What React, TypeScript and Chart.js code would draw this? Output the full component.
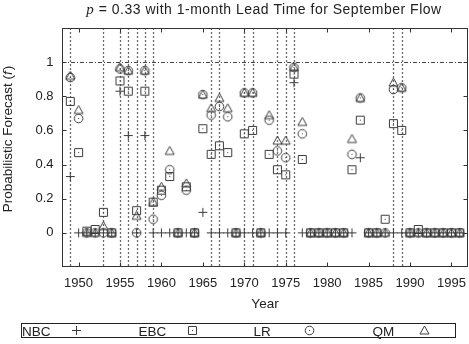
import { useEffect, useRef } from 'react';
import { Chart, registerables } from 'chart.js';

Chart.register(...registerables);

// Forecast years
const years = [
  1949, 1950, 1951, 1952, 1953, 1954, 1955, 1956, 1957, 1958, 1959, 1960,
  1961, 1962, 1963, 1964, 1965, 1966, 1967, 1968, 1969, 1970, 1971, 1972,
  1973, 1974, 1975, 1976, 1977, 1978, 1979, 1980, 1981, 1982, 1983, 1984,
  1985, 1986, 1987, 1988, 1989, 1990, 1991, 1992, 1993, 1994, 1995, 1996,
];

// Probabilistic forecasts (f) by method
const nbc = [
  0.33, 0, 0, 0, 0, 0, 0.83, 0.57, 0, 0.57, 0, 0,
  0, 0, 0, 0, 0.12, 0, 0, 0, 0, 0, 0, 0,
  0, 0, 0, 0.88, 0, 0, 0, 0, 0, 0, 0, 0.44,
  0, 0, 0, 0, 0, 0, 0, 0, 0, 0, 0, 0,
];
const ebc = [
  0.77, 0.47, 0.01, 0.02, 0.12, 0, 0.89, 0.83, 0.13, 0.83, 0.18, 0.25,
  0.33, 0, 0.27, 0, 0.61, 0.46, 0.51, 0.47, 0, 0.58, 0.6, 0,
  0.46, 0.37, 0.34, 0.93, 0.43, 0, 0, 0, 0, 0, 0.37, 0.66,
  0, 0, 0.08, 0.64, 0.6, 0, 0.02, 0, 0, 0, 0, 0,
];
const lr = [
  0.91, 0.67, 0, 0, 0, 0, 0.96, 0.95, 0, 0.95, 0.08, 0.22,
  0.37, 0, 0.25, 0, 0.81, 0.69, 0.74, 0.68, 0, 0.82, 0.82, 0,
  0.66, 0.48, 0.44, 0.97, 0.58, 0, 0, 0, 0, 0, 0.46, 0.79,
  0, 0, 0, 0.84, 0.85, 0, 0, 0, 0, 0, 0, 0,
];
const qm = [
  0.92, 0.72, 0, 0, 0.04, 0, 0.97, 0.95, 0.1, 0.95, 0.18, 0.27,
  0.48, 0, 0.29, 0, 0.81, 0.73, 0.79, 0.73, 0, 0.82, 0.82, 0,
  0.69, 0.54, 0.54, 0.97, 0.65, 0, 0, 0, 0, 0, 0.55, 0.79,
  0, 0, 0, 0.88, 0.85, 0, 0, 0, 0, 0, 0, 0,
];

// Years in which the observed September flow fell in the event category
const eventYears = [
  1949, 1953, 1955, 1956, 1957, 1958, 1959, 1966, 1967, 1970, 1971, 1974,
  1975, 1976, 1988, 1989,
];

const xTicks = [1950, 1955, 1960, 1965, 1970, 1975, 1980, 1985, 1990, 1995];
const yTicks = [0, 0.2, 0.4, 0.6, 0.8, 1];
const certainty = 1;

const legendLabels = ['NBC', 'EBC', 'LR', 'QM'];

const SANS = '"Liberation Sans", Arial, sans-serif';
const SERIF = '"Liberation Serif", "Times New Roman", serif';
const MARK = '#3c3c3c';

type Kind = 'plus' | 'square' | 'circle' | 'triangle';

function makeMarker(kind: Kind): HTMLCanvasElement {
  const c = document.createElement('canvas');
  c.width = 13;
  c.height = 13;
  const g = c.getContext('2d')!;
  g.translate(6.5, 6.5);
  g.strokeStyle = MARK;
  g.fillStyle = MARK;
  g.lineWidth = 1;
  g.beginPath();
  if (kind === 'plus') {
    g.moveTo(-4.5, 0);
    g.lineTo(4.5, 0);
    g.moveTo(0, -4.5);
    g.lineTo(0, 4.5);
    g.stroke();
  } else if (kind === 'square') {
    g.rect(-4, -4, 8, 8);
    g.stroke();
    g.fillRect(-0.5, -0.5, 1, 1);
  } else if (kind === 'circle') {
    g.arc(0, 0, 4.3, 0, Math.PI * 2);
    g.stroke();
    g.fillRect(-0.5, -0.5, 1, 1);
  } else {
    g.moveTo(0, -4.5);
    g.lineTo(4.5, 3.5);
    g.lineTo(-4.5, 3.5);
    g.closePath();
    g.stroke();
  }
  return c;
}

export default function App() {
  const ref = useRef<HTMLCanvasElement | null>(null);

  useEffect(() => {
    document.body.style.margin = '0';
    const canvas = ref.current;
    if (!canvas) return;

    const markers: Record<Kind, HTMLCanvasElement> = {
      plus: makeMarker('plus'),
      square: makeMarker('square'),
      circle: makeMarker('circle'),
      triangle: makeMarker('triangle'),
    };
    const legendKinds: Kind[] = ['plus', 'square', 'circle', 'triangle'];

    const series = (label: string, values: number[], kind: Kind) => ({
      label,
      data: years.map((yr, i) => ({ x: yr, y: values[i] })),
      pointStyle: markers[kind],
      pointRadius: 5,
      pointHoverRadius: 5,
      showLine: false,
      borderColor: MARK,
      backgroundColor: MARK,
    });

    const decor = {
      id: 'decor',
      beforeDatasetsDraw(chart: any) {
        const { ctx, chartArea: a } = chart;
        const x = chart.scales.x;
        const y = chart.scales.y;
        ctx.save();
        ctx.beginPath();
        ctx.rect(a.left, a.top, a.right - a.left, a.bottom - a.top);
        ctx.clip();
        ctx.lineWidth = 1.3;
        ctx.strokeStyle = '#6a6a6a';
        ctx.setLineDash([2, 2]);
        for (const yr of eventYears) {
          const px = Math.round(x.getPixelForValue(yr)) + 0.5;
          ctx.beginPath();
          ctx.moveTo(px, a.top);
          ctx.lineTo(px, a.bottom);
          ctx.stroke();
        }
        ctx.lineWidth = 1;
        ctx.strokeStyle = '#444';
        ctx.setLineDash([4, 2, 1, 2]);
        const py = Math.round(y.getPixelForValue(certainty)) + 0.5;
        ctx.beginPath();
        ctx.moveTo(a.left, py);
        ctx.lineTo(a.right, py);
        ctx.stroke();
        ctx.restore();
      },
      afterDraw(chart: any) {
        const { ctx, chartArea: a } = chart;
        const x = chart.scales.x;
        const y = chart.scales.y;
        ctx.save();
        // frame
        ctx.strokeStyle = '#333';
        ctx.lineWidth = 1;
        ctx.setLineDash([]);
        const L = Math.round(a.left) + 0.5;
        const R = Math.round(a.right) - 0.5;
        const T = Math.round(a.top) + 0.5;
        const B = Math.round(a.bottom) - 0.5;
        ctx.strokeRect(L, T, R - L, B - T);
        // inward tick marks
        ctx.beginPath();
        for (const v of xTicks) {
          const px = Math.round(x.getPixelForValue(v)) + 0.5;
          ctx.moveTo(px, B);
          ctx.lineTo(px, B - 4);
          ctx.moveTo(px, T);
          ctx.lineTo(px, T + 4);
        }
        for (const v of yTicks) {
          const py = Math.round(y.getPixelForValue(v)) + 0.5;
          ctx.moveTo(L, py);
          ctx.lineTo(L + 4, py);
          ctx.moveTo(R, py);
          ctx.lineTo(R - 4, py);
        }
        ctx.stroke();

        ctx.fillStyle = '#222';

        // tick labels
        ctx.font = `13px ${SANS}`;
        ctx.textAlign = 'center';
        ctx.textBaseline = 'alphabetic';
        for (const v of xTicks) {
          ctx.fillText(String(v), x.getPixelForValue(v), 286.5);
        }
        ctx.textAlign = 'right';
        ctx.textBaseline = 'middle';
        for (const v of yTicks) {
          ctx.fillText(String(v), 53.5, y.getPixelForValue(v));
        }
        ctx.textBaseline = 'alphabetic';

        // title
        const pPart = 'p';
        const rest = ' = 0.33 with 1-month Lead Time for September Flow';
        (ctx as any).letterSpacing = '0.5px';
        ctx.font = `italic 15px ${SERIF}`;
        const wp = ctx.measureText(pPart).width;
        ctx.font = `14px ${SANS}`;
        const wr = ctx.measureText(rest).width;
        const tx = 264 - (wp + wr) / 2;
        ctx.textAlign = 'left';
        ctx.font = `italic 15px ${SERIF}`;
        ctx.fillText(pPart, tx, 14);
        ctx.font = `14px ${SANS}`;
        ctx.fillText(rest, tx + wp, 14);
        (ctx as any).letterSpacing = '0px';

        // x axis title
        ctx.textAlign = 'center';
        ctx.font = `13.5px ${SANS}`;
        ctx.fillText('Year', (a.left + a.right) / 2, 307.5);

        // y axis title
        ctx.save();
        ctx.translate(12, 139);
        ctx.rotate(-Math.PI / 2);
        const yl1 = 'Probabilistic Forecast (';
        const yl2 = 'f';
        const yl3 = ')';
        ctx.font = `13.5px ${SANS}`;
        const w1 = ctx.measureText(yl1).width;
        const w3 = ctx.measureText(yl3).width;
        ctx.font = `italic 13.5px ${SANS}`;
        const w2 = ctx.measureText(yl2).width;
        const sx = -(w1 + w2 + w3 + 1) / 2;
        ctx.textAlign = 'left';
        ctx.font = `13.5px ${SANS}`;
        ctx.fillText(yl1, sx, 0);
        ctx.font = `italic 13.5px ${SANS}`;
        ctx.fillText(yl2, sx + w1, 0);
        ctx.font = `13.5px ${SANS}`;
        ctx.fillText(yl3, sx + w1 + w2 + 1, 0);
        ctx.restore();

        // legend strip
        ctx.strokeStyle = '#222';
        ctx.strokeRect(21.5, 323.5, 434, 14);
        ctx.font = `13.5px ${SANS}`;
        ctx.textAlign = 'left';
        const textX = [22, 138.5, 253.5, 372.5];
        const markX = [76, 192, 309, 424];
        legendLabels.forEach((lab, i) => {
          ctx.fillText(lab, textX[i], 335.5);
          const m = markers[legendKinds[i]];
          ctx.drawImage(m, Math.round(markX[i] - m.width / 2), Math.round(330.5 - m.height / 2));
        });
        ctx.restore();
      },
    };

    const chart = new Chart(canvas, {
      type: 'scatter',
      data: {
        datasets: [
          series('NBC', nbc, 'plus'),
          series('EBC', ebc, 'square'),
          series('LR', lr, 'circle'),
          series('QM', qm, 'triangle'),
        ],
      },
      options: {
        animation: false,
        responsive: false,
        events: [],
        layout: { autoPadding: false, padding: { top: 28, right: 1, left: 0, bottom: 0 } },
        plugins: {
          legend: { display: false },
          tooltip: { enabled: false },
          title: { display: false },
        },
        scales: {
          x: {
            type: 'linear',
            min: 1948,
            max: 1997,
            afterBuildTicks: (s: any) => {
              s.ticks = xTicks.map((v) => ({ value: v }));
            },
            afterFit: (s: any) => {
              s.height = 77;
              s.paddingLeft = 0;
              s.paddingRight = 0;
            },
            grid: { display: false, drawTicks: false },
            border: { display: false },
            ticks: { display: false, padding: 0 },
          },
          y: {
            type: 'linear',
            min: -0.2,
            max: 1.2,
            afterBuildTicks: (s: any) => {
              s.ticks = yTicks.map((v) => ({ value: v }));
            },
            afterFit: (s: any) => {
              s.width = 62;
              s.paddingTop = 0;
              s.paddingBottom = 0;
            },
            grid: { display: false, drawTicks: false },
            border: { display: false },
            ticks: { display: false, padding: 0 },
          },
        },
      },
      plugins: [decor],
    });

    return () => chart.destroy();
  }, []);

  return (
    <div style={{ position: 'absolute', left: 0, top: 0, width: 469, height: 344 }}>
      <canvas ref={ref} width={469} height={344} style={{ display: 'block', width: 469, height: 344 }} />
    </div>
  );
}
